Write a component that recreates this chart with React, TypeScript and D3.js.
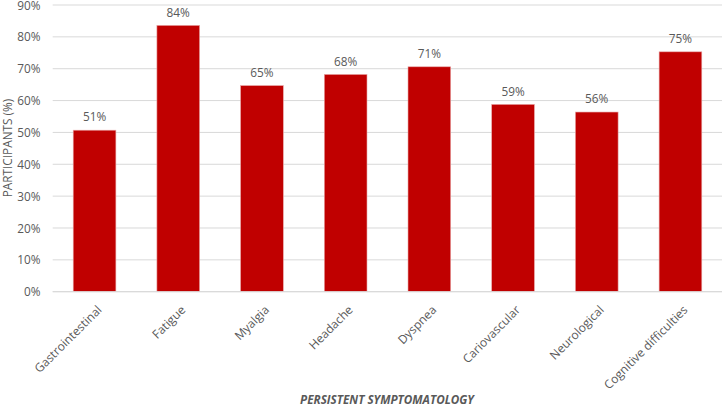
import React from "react";
import * as d3 from "d3";

const categories = ["Gastrointestinal", "Fatigue", "Myalgia", "Headache", "Dyspnea", "Cariovascular", "Neurological", "Cognitive difficulties"];
const values = [50.7, 83.6, 64.7, 68.2, 70.6, 58.8, 56.4, 75.3];
const yTicks = [0, 10, 20, 30, 40, 50, 60, 70, 80, 90];

const W = 722;
const H = 407;
const left = 52.7;
const right = 722.3;
const top = 5;
const bottom = 291.7;
const FONT = "'Open Sans', sans-serif";

export default function App() {
  const x = d3.scaleBand<string>().domain(categories).range([left, right]).paddingInner(0.49).paddingOuter(0.245);
  const y = d3.scaleLinear().domain([0, 90]).range([bottom, top]);
  return (
    <svg width={W} height={H} style={{ position: "absolute", left: 0, top: 0, background: "#fff" }} fontFamily={FONT}>
      {yTicks.map((t) => (
        <g key={t}>
          <line x1={left} x2={right} y1={y(t)} y2={y(t)} stroke="#d9d9d9" strokeWidth={1} />
          <text x={40.5} y={y(t) + 0.5} dy="0.35em" textAnchor="end" fontSize={11.8} fill="#595959">{t}%</text>
        </g>
      ))}
      {categories.map((c, i) => (
        <g key={c}>
          <rect x={x(c)} y={y(values[i])} width={x.bandwidth()} height={bottom - y(values[i])} fill="#C00000" stroke="#e8a6a6" strokeWidth={0.6} />
          <text x={(x(c) as number) + x.bandwidth() / 2} y={y(values[i]) - 13} dy="0.35em" textAnchor="middle" fontSize={11.8} fill="#595959">
            {Math.round(values[i])}%
          </text>
          <text
            transform={`translate(${(x(c) as number) + x.bandwidth() / 2 + 2},${bottom + 13}) rotate(-45)`}
            textAnchor="end"
            dy="0.7em"
            fontSize={12}
            fill="#595959"
          >
            {c}
          </text>
        </g>
      ))}
      <line x1={left} x2={right} y1={bottom} y2={bottom} stroke="#d9d9d9" strokeWidth={1} />
      <text transform={`translate(8,148) rotate(-90)`} textAnchor="middle" dy="0.35em" fontSize={11.8} fill="#595959">
        PARTICIPANTS (%)
      </text>
      <text x={387} y={404} textAnchor="middle" fontSize={11.7} fontWeight="bold" fontStyle="italic" fill="#595959">
        PERSISTENT SYMPTOMATOLOGY
      </text>
    </svg>
  );
}
